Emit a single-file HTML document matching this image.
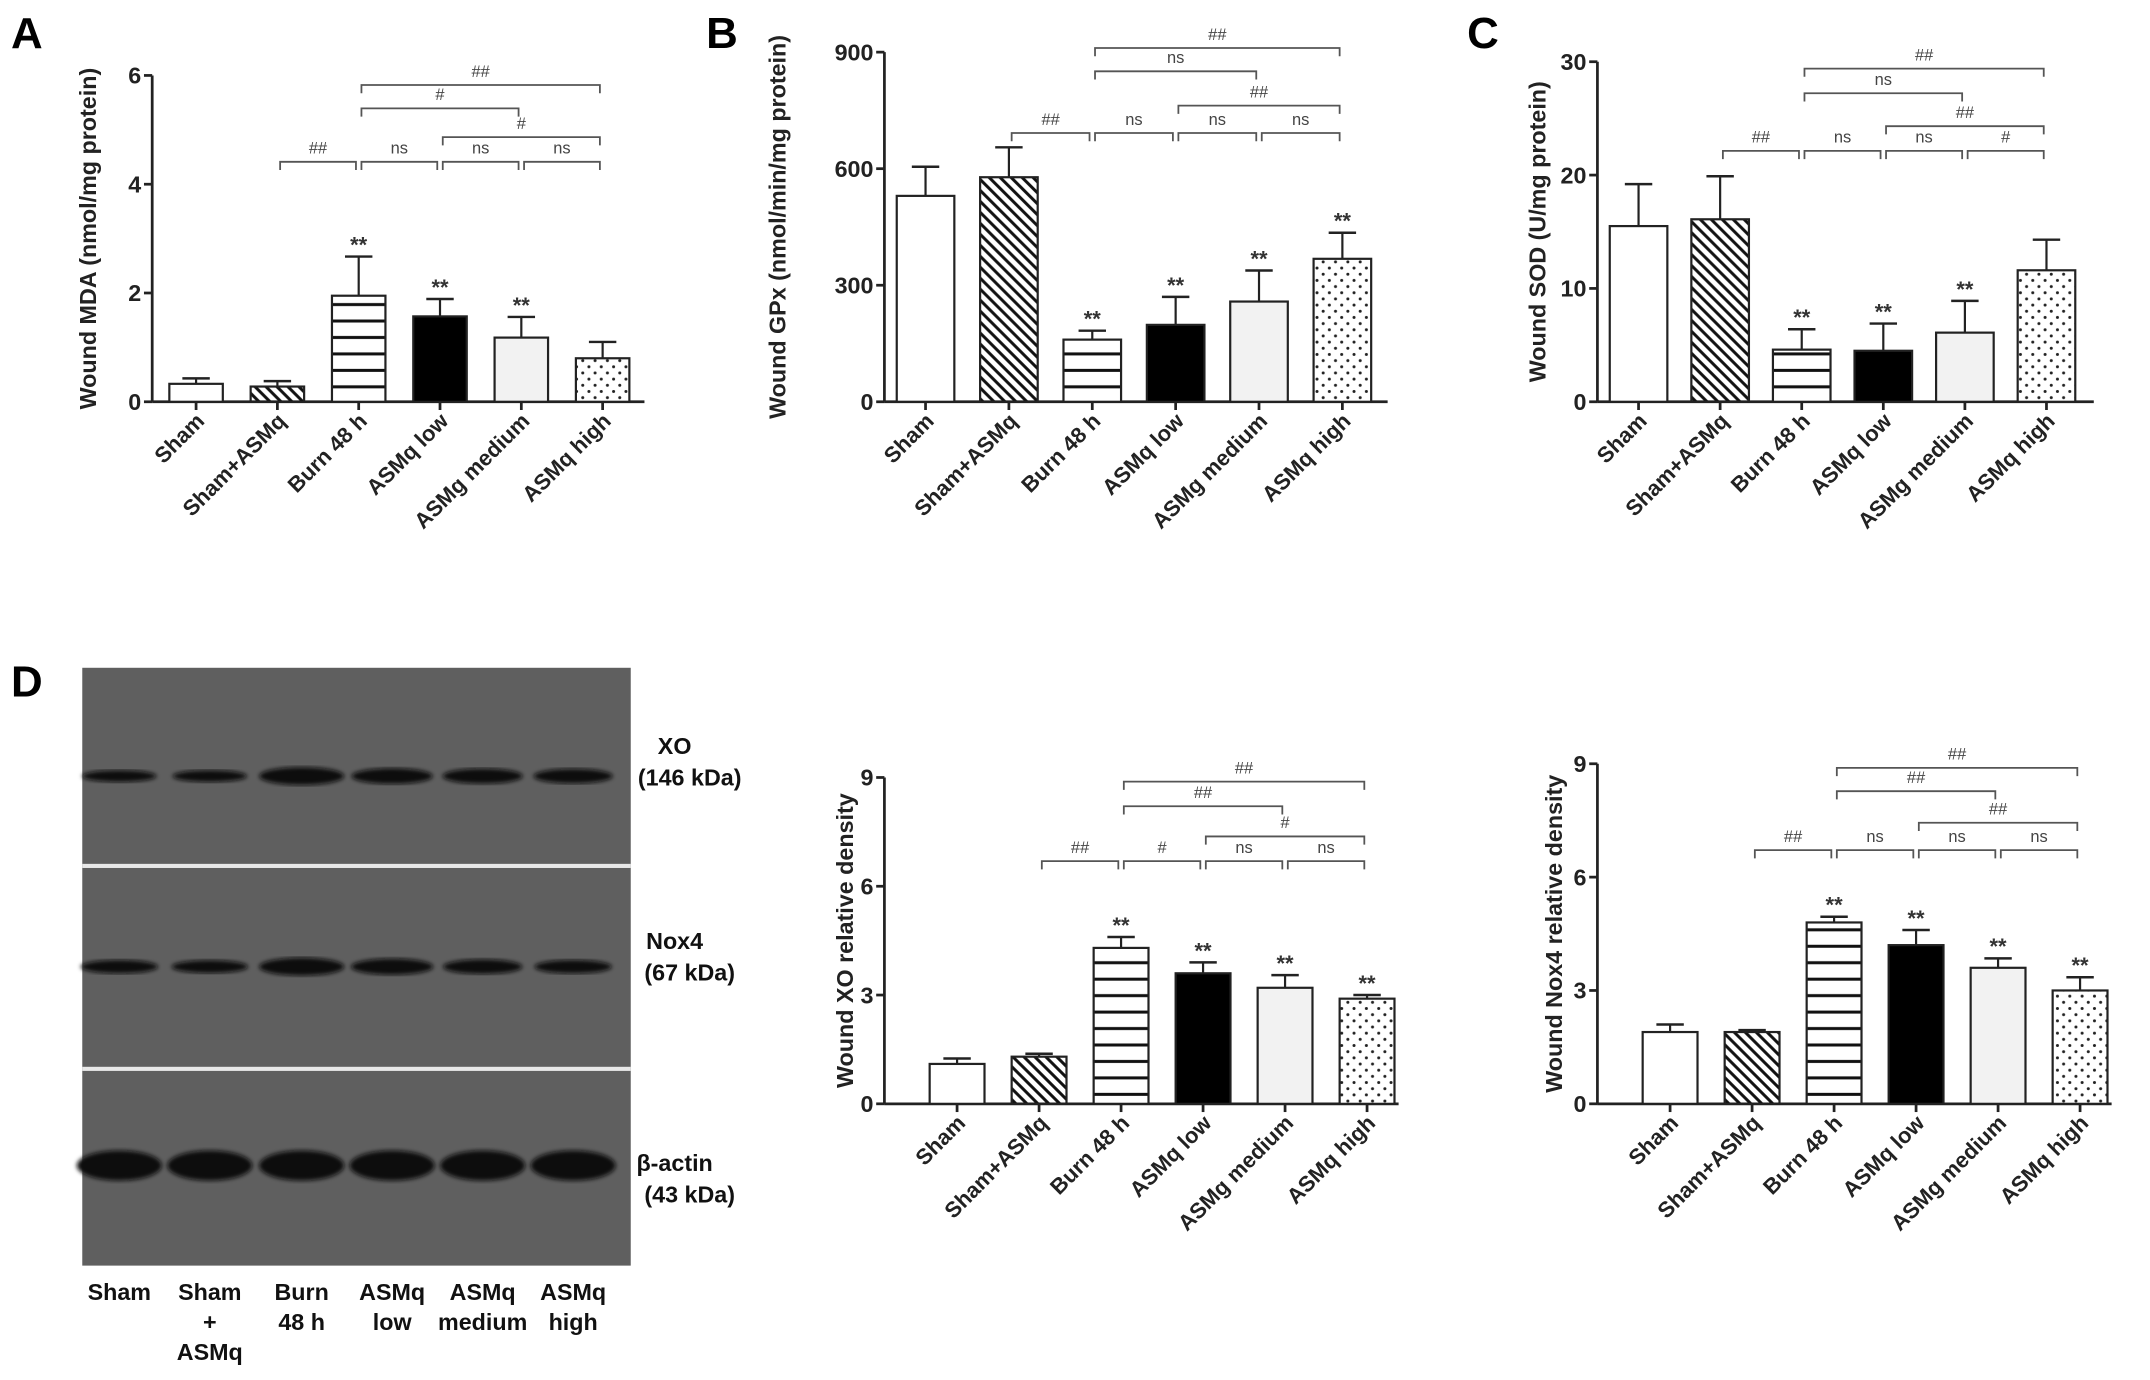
<!DOCTYPE html>
<html><head><meta charset="utf-8"><style>
html,body{margin:0;padding:0;background:#fff;}
svg{display:block;font-family:"Liberation Sans",Arial,sans-serif;}
.tick{font-size:17px;font-weight:bold;fill:#222;}
.xl{font-size:16px;font-weight:bold;fill:#222;}
.yt{font-size:17px;font-weight:bold;fill:#222;}
.br{font-size:12px;fill:#444;}
.st{font-size:16px;font-weight:bold;fill:#333;}
.pl{font-size:32px;font-weight:bold;fill:#000;}
.bl{font-size:17px;font-weight:bold;fill:#111;}
</style></head><body>
<svg id="fig" width="2150" height="1380" viewBox="0 0 1568 1006.4" xmlns="http://www.w3.org/2000/svg">
<defs>
<pattern id="hatch" patternUnits="userSpaceOnUse" width="8" height="8"><path d="M-2,-2 L10,10 M-2,6 L2,10 M6,-2 L10,2" stroke="#111" stroke-width="2.2"/></pattern>
<pattern id="hline" patternUnits="userSpaceOnUse" width="10" height="12"><rect width="10" height="12" fill="#fff"/><rect y="5" width="10" height="2.2" fill="#111"/></pattern>
<pattern id="dots" patternUnits="userSpaceOnUse" width="9" height="9"><rect width="9" height="9" fill="#fff"/><circle cx="2" cy="2" r="1.1" fill="#222"/><circle cx="6.5" cy="6.5" r="1.1" fill="#222"/></pattern>
<filter id="blur"><feGaussianBlur stdDeviation="1.6"/></filter>
</defs>
<text class="pl" x="8" y="35">A</text>
<text class="pl" x="515" y="35">B</text>
<text class="pl" x="1070" y="35">C</text>
<text class="pl" x="8" y="508">D</text>
<g id="blot"></g>
</svg>
<script>
const NS="http://www.w3.org/2000/svg";
const svg=document.getElementById('fig');
const categories=["Sham","Sham+ASMq","Burn 48 h","ASMq low","ASMg medium","ASMq high"];
const fills=["#fff","url(#hatch)","url(#hline)","#000","#f2f2f2","url(#dots)"];

// Panel A: MDA
const mdaValues=[0.33,0.28,1.95,1.57,1.18,0.80];
const mdaErrors=[0.10,0.10,0.72,0.32,0.38,0.30];
const mdaTicks=[0,2,4,6];
const mdaStars=["","","**","**","**",""];
const mdaBrackets=[[1,2,"##",0],[2,3,"ns",0],[3,4,"ns",0],[4,5,"ns",0],[3,5,"#",1],[2,4,"#",2],[2,5,"##",3]];
// Panel B: GPx
const gpxValues=[530,578,160,198,258,368];
const gpxErrors=[75,77,23,72,80,67];
const gpxTicks=[0,300,600,900];
const gpxStars=["","","**","**","**","**"];
const gpxBrackets=[[1,2,"##",0],[2,3,"ns",0],[3,4,"ns",0],[4,5,"ns",0],[3,5,"##",1],[2,4,"ns",2],[2,5,"##",3]];
// Panel C: SOD
const sodValues=[15.5,16.1,4.6,4.5,6.1,11.6];
const sodErrors=[3.7,3.8,1.8,2.4,2.8,2.7];
const sodTicks=[0,10,20,30];
const sodStars=["","","**","**","**",""];
const sodBrackets=[[1,2,"##",0],[2,3,"ns",0],[3,4,"ns",0],[4,5,"#",0],[3,5,"##",1],[2,4,"ns",2],[2,5,"##",3]];
// Panel D: XO density
const xoValues=[1.1,1.3,4.3,3.6,3.2,2.9];
const xoErrors=[0.15,0.08,0.30,0.30,0.35,0.10];
const xoTicks=[0,3,6,9];
const xoStars=["","","**","**","**","**"];
const xoBrackets=[[1,2,"##",0],[2,3,"#",0],[3,4,"ns",0],[4,5,"ns",0],[3,5,"#",1],[2,4,"##",2],[2,5,"##",3]];
// Panel D: Nox4 density
const noxValues=[1.9,1.9,4.8,4.2,3.6,3.0];
const noxErrors=[0.2,0.05,0.15,0.4,0.25,0.35];
const noxTicks=[0,3,6,9];
const noxStars=["","","**","**","**","**"];
const noxBrackets=[[1,2,"##",0],[2,3,"ns",0],[3,4,"ns",0],[4,5,"ns",0],[3,5,"##",1],[2,4,"##",2],[2,5,"##",3]];
// Blot band intensities (relative)
const blotLanes=["Sham","Sham\n+\nASMq","Burn\n48 h","ASMq\nlow","ASMq\nmedium","ASMq\nhigh"];
const xoBand=[0.45,0.45,1.0,0.8,0.75,0.7];
const noxBand=[0.6,0.55,1.0,0.85,0.7,0.6];
const actinBand=[1,1,1,1,1,1];

function el(tag,attrs,parent){const e=document.createElementNS(NS,tag);for(const k in attrs)e.setAttribute(k,attrs[k]);(parent||svg).appendChild(e);return e;}

function chart(cfg){
  const g=el('g',{});
  
  
  const max=cfg.ticks[cfg.ticks.length-1];
  const y=v=>cfg.y0-v/max*(cfg.y0-cfg.yTop);
  const x=i=>cfg.x1+cfg.step*i;
  const bw=cfg.bw;
  const ya=el('line',{x1:cfg.ax,y1:cfg.yTop,x2:cfg.ax,y2:cfg.y0,stroke:'#222','stroke-width':2},g);
  
  
  const xa=el('line',{x1:cfg.ax,y1:cfg.y0,x2:cfg.axEnd,y2:cfg.y0,stroke:'#222','stroke-width':2},g);
  
  
  cfg.ticks.forEach(t=>{
    el('line',{x1:cfg.ax-6,y1:y(t),x2:cfg.ax,y2:y(t),stroke:'#222','stroke-width':2},g);
    const tl=el('text',{x:cfg.ax-8,y:y(t)+6,'text-anchor':'end',class:'tick'},g);
    tl.textContent=t;
    
    
  });
  const yt=el('text',{x:0,y:0,'text-anchor':'middle',class:'yt',transform:`translate(${cfg.ytx},${(cfg.y0+cfg.yTop)/2}) rotate(-90)`},g);
  yt.textContent=cfg.title;
  
  
  categories.forEach((c,i)=>{
    const cx=x(i),v=cfg.values[i],e=cfg.errors[i];
    el('line',{x1:cx,y1:y(v),x2:cx,y2:y(v+e),stroke:'#222','stroke-width':1.6},g);
    el('line',{x1:cx-10,y1:y(v+e),x2:cx+10,y2:y(v+e),stroke:'#222','stroke-width':1.8},g);
    const b=el('rect',{x:cx-bw/2,y:y(v),width:bw,height:cfg.y0-y(v),fill:fills[i],stroke:'#222','stroke-width':1.6},g);
    
    
    el('line',{x1:cx,y1:cfg.y0,x2:cx,y2:cfg.y0+6,stroke:'#222','stroke-width':2},g);
    const xl=el('text',{x:0,y:0,'text-anchor':'end',class:'xl',transform:`translate(${cx+7},${cfg.y0+15}) rotate(-45)`},g);
    xl.textContent=c;
    
    
    if(cfg.stars[i]){
      const s=el('text',{x:cx,y:y(v+e)-3,'text-anchor':'middle',class:'st'},g);
      s.textContent=cfg.stars[i];
      
      
    }
  });
  cfg.brackets.forEach(br=>{
    const [a,b,lab,row]=br;
    const by=cfg.rows[row];
    const xa=x(a)+2,xb=x(b)-2;
    const p=el('path',{d:`M${xa},${by+6} V${by} H${xb} V${by+6}`,fill:'none',stroke:'#555','stroke-width':1.3},g);
    
    
    const t=el('text',{x:(xa+xb)/2,y:by-6,'text-anchor':'middle',class:'br'},g);
    t.textContent=lab;
    
    
  });
}

chart({name:'mda-chart',values:mdaValues,errors:mdaErrors,ticks:mdaTicks,stars:mdaStars,brackets:mdaBrackets,
  ax:111,axEnd:470,y0:293,yTop:55,x1:143,step:59.3,bw:39,ytx:70,rows:[118,100,79,62],title:'Wound MDA (nmol/mg protein)'});
chart({name:'gpx-chart',values:gpxValues,errors:gpxErrors,ticks:gpxTicks,stars:gpxStars,brackets:gpxBrackets,
  ax:645,axEnd:1012,y0:293,yTop:38,x1:675,step:60.8,bw:42,ytx:573,rows:[97,77,52,35],title:'Wound GPx (nmol/min/mg protein)'});
chart({name:'sod-chart',values:sodValues,errors:sodErrors,ticks:sodTicks,stars:sodStars,brackets:sodBrackets,
  ax:1165,axEnd:1527,y0:293,yTop:45,x1:1195,step:59.5,bw:42,ytx:1127,rows:[110,92,68,50],title:'Wound SOD (U/mg protein)'});
chart({name:'xo-density-chart',values:xoValues,errors:xoErrors,ticks:xoTicks,stars:xoStars,brackets:xoBrackets,
  ax:645,axEnd:1020,y0:805,yTop:567,x1:698,step:59.8,bw:40,ytx:622,rows:[628,610,588,570],title:'Wound XO relative density'});
chart({name:'nox4-density-chart',values:noxValues,errors:noxErrors,ticks:noxTicks,stars:noxStars,brackets:noxBrackets,
  ax:1165,axEnd:1540,y0:805,yTop:557,x1:1218,step:59.8,bw:40,ytx:1139,rows:[620,600,577,560],title:'Wound Nox4 relative density'});

(function(){
  const g=document.getElementById('blot');
  const bg=el('rect',{x:60,y:487,width:400,height:436,fill:'#5f5f5f'},g);
  
  
  el('rect',{x:60,y:630,width:400,height:3,fill:'#e8e8e8'},g);
  el('rect',{x:60,y:778,width:400,height:3,fill:'#e8e8e8'},g);
  const laneX=[87,153,220,286,352,418];
  const rows=[[xoBand,566,'XO','(146 kDa)',550],[noxBand,705,'Nox4','(67 kDa)',692],[actinBand,850,'β-actin','(43 kDa)',854]];
  rows.forEach((r,ri)=>{
    r[0].forEach((v,i)=>{
      const h=ri==2?22:(5+v*8);
      const e=el('ellipse',{cx:laneX[i],cy:r[1],rx:24+v*7,ry:h/2,fill:'#0d0d0d',filter:'url(#blur)'},g);
      
      
    });
    const t1=el('text',{x:492,y:r[4],'text-anchor':'middle',class:'bl'},g);
    t1.textContent=r[2];
    
    
    const t2=el('text',{x:503,y:r[4]+23,'text-anchor':'middle',class:'bl'},g);
    t2.textContent=r[3];
    
    
  });
  blotLanes.forEach((l,i)=>{
    l.split('\n').forEach((s,k)=>{
      const t=el('text',{x:laneX[i],y:948+k*22,'text-anchor':'middle',class:'bl'},g);
      t.textContent=s;
      
      
    });
  });
})();
</script>
</body></html>
